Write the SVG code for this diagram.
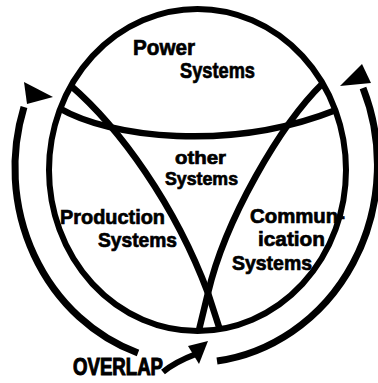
<svg xmlns="http://www.w3.org/2000/svg" width="378" height="383" viewBox="0 0 378 383">
<style>
.ln{fill:none;stroke:#000;stroke-linecap:butt}
.t{font-family:"Liberation Sans",Arial,sans-serif;font-weight:bold;fill:#000;stroke:#000;stroke-width:0.7}
</style>
<rect width="378" height="383" fill="#fff"/>
<g id="connectors">
<path class="ln" d="M 24 107 A 183 196 0 0 0 138 353" stroke-width="7"/>
<polygon points="24,82 53,97 27,104"/>
<path class="ln" d="M 217 361 A 185 198 0 0 0 363 88" stroke-width="7"/>
<polygon points="362,64 340,86 371,83"/>
<path class="ln" d="M 163 372 Q 175 362 196 354" stroke-width="6"/>
<polygon points="208,341 188,346 199,364"/>
</g>
<g id="circle">
<ellipse cx="197.5" cy="170" rx="148.5" ry="161" class="ln" stroke-width="6"/>
</g>
<g id="boundaries">
<path class="ln" d="M 70 85 C 120 128, 175 205, 208 293 L 220 330" stroke-width="6.5"/>
<path class="ln" d="M 323 83 C 280 125, 225 220, 208 293 L 199 330" stroke-width="6.5"/>
<path class="ln" d="M 59 108 C 110 138, 230 152, 336 110" stroke-width="6.5"/>
</g>
<g id="power">
<text class="t" x="133" y="55" font-size="22" textLength="62" lengthAdjust="spacingAndGlyphs">Power</text>
<text class="t" x="180" y="78" font-size="22" textLength="75" lengthAdjust="spacingAndGlyphs">Systems</text>
</g>
<g id="other">
<text class="t" x="175" y="164" font-size="18.5" textLength="51" lengthAdjust="spacingAndGlyphs">other</text>
<text class="t" x="165" y="185" font-size="18.5" textLength="73" lengthAdjust="spacingAndGlyphs">Systems</text>
</g>
<g id="production">
<text class="t" x="60" y="224" font-size="20.5" textLength="105" lengthAdjust="spacingAndGlyphs">Production</text>
<text class="t" x="98" y="247" font-size="20.5" textLength="79" lengthAdjust="spacingAndGlyphs">Systems</text>
</g>
<g id="communication">
<text class="t" x="250" y="223" font-size="20.5" textLength="95" lengthAdjust="spacingAndGlyphs">Commun-</text>
<text class="t" x="258" y="246" font-size="20.5" textLength="67" lengthAdjust="spacingAndGlyphs">ication</text>
<text class="t" x="232" y="270" font-size="20.5" textLength="80" lengthAdjust="spacingAndGlyphs">Systems</text>
</g>
<g id="overlap">
<text class="t" x="73" y="375" font-size="24" textLength="90" lengthAdjust="spacingAndGlyphs" style="stroke-width:1.1">OVERLAP</text>
</g>
</svg>
